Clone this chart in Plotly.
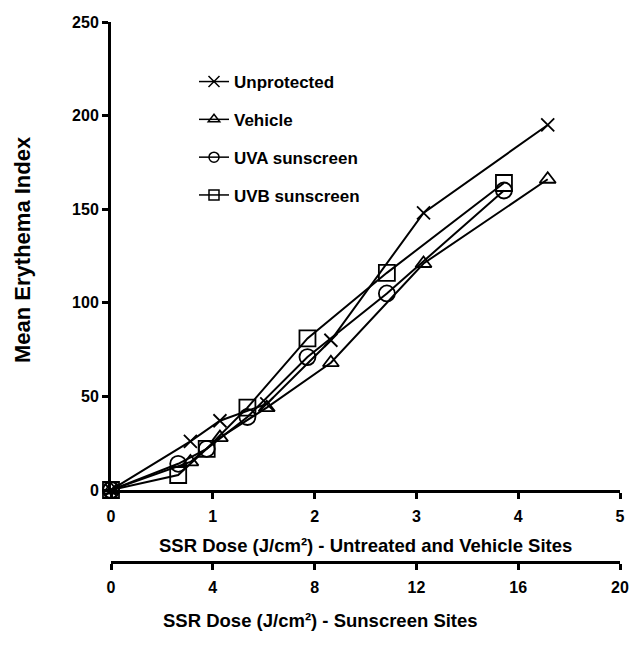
import plotly.graph_objects as go

# Doses for untreated (unprotected) and vehicle sites, J/cm2
dose_untreated = [0, 0.78, 1.07, 1.53, 2.16, 3.07, 4.29]
unprotected = [0, 26, 37, 46, 80, 148, 195]
vehicle = [0, 15, 28, 44, 68, 121, 166]

# Doses for sunscreen sites, J/cm2
dose_sunscreen = [0, 2.64, 3.76, 5.36, 7.72, 10.84, 15.44]
uva = [0, 14, 22, 39, 71, 105, 160]
uvb = [0, 8, 22, 44, 81, 116, 164]

x1_ticks = [0, 1, 2, 3, 4, 5]
x2_ticks = [0, 4, 8, 12, 16, 20]
y_ticks = [0, 50, 100, 150, 200, 250]

FONT = "Liberation Sans, Arial, sans-serif"
BLACK = "#000000"

# the page has an 8px body margin on every side; size the figure so the
# page does not overflow the 641x645 window, and work in page coordinates
OFF = 8
W, H = 641 - 2 * OFF, 645 - 2 * OFF - 1
ml = 111 - OFF
mt = 22 - OFF
mr = W - (620 - OFF)
mb = 4
plot_w = W - ml - mr
plot_h = H - mt - mb
paper_bottom_page = OFF + H - mb


def py(page_y):
    return (paper_bottom_page - page_y) / plot_h


def px(page_x):
    return (page_x - OFF - ml) / plot_w


dom0 = py(490)
pos2 = py(562)

fig = go.Figure()

series = [
    ("Unprotected", dose_untreated, unprotected, "x-thin-open", 13, 11, "x"),
    ("Vehicle", dose_untreated, vehicle, "triangle-up-open", 14, 10, "x"),
    ("UVA sunscreen", dose_sunscreen, uva, "circle-open", 16, 10, "x2"),
    ("UVB sunscreen", dose_sunscreen, uvb, "square-open", 16, 10, "x2"),
]

for i, (name, x, y, symbol, size, lsize, xaxis) in enumerate(series):
    fig.add_trace(go.Scatter(
        x=x, y=y, name=name, mode="lines+markers", xaxis=xaxis, yaxis="y",
        showlegend=False,
        line=dict(color=BLACK, width=2),
        marker=dict(symbol=symbol, size=size, color=BLACK,
                    line=dict(color=BLACK, width=1.8)),
        cliponaxis=False,
    ))
    # legend entry with smaller symbol, as in the original
    fig.add_trace(go.Scatter(
        x=[None], y=[None], name=name, mode="lines+markers",
        xaxis=xaxis, yaxis="y", legendgroup=f"g{i}", showlegend=True,
        line=dict(color=BLACK, width=1.5),
        marker=dict(symbol=symbol, size=lsize, color=BLACK,
                    line=dict(color=BLACK, width=1.5)),
    ))

tickfont = dict(family=FONT, size=16, color=BLACK, weight="bold")
axis_common = dict(
    showgrid=False, zeroline=False, showline=True, linecolor=BLACK, linewidth=3,
    ticks="outside", ticklen=6, tickwidth=3, tickcolor=BLACK, tickfont=tickfont,
    automargin=False,
)

fig.update_layout(
    width=W, height=H,
    margin=dict(l=ml, r=mr, t=mt, b=mb, autoexpand=False),
    paper_bgcolor="white", plot_bgcolor="white",
    font=dict(family=FONT, color=BLACK),
    showlegend=True,
    legend=dict(
        x=px(194), y=py(64), xanchor="left", yanchor="top",
        font=dict(family=FONT, size=17, color=BLACK, weight="bold"),
        bgcolor="rgba(0,0,0,0)", tracegroupgap=12.7, itemwidth=30,
    ),
    xaxis=dict(
        range=[0, 5], tickvals=x1_ticks, ticktext=[str(v) for v in x1_ticks],
        anchor="y", domain=[0, 1], ticklabelstandoff=4, **axis_common,
    ),
    xaxis2=dict(
        range=[0, 20], tickvals=x2_ticks, ticktext=[str(v) for v in x2_ticks],
        overlaying="x", anchor="free", position=pos2, side="bottom",
        ticklabelstandoff=4, **axis_common,
    ),
    yaxis=dict(
        range=[0, 250], tickvals=y_ticks, ticktext=[str(v) for v in y_ticks],
        domain=[dom0, 1], **axis_common,
    ),
)

fig.add_annotation(
    text="Mean Erythema Index", textangle=-90,
    xref="paper", yref="paper", x=px(22), y=py(250),
    xanchor="center", yanchor="middle", showarrow=False,
    font=dict(family=FONT, size=22, color=BLACK, weight="bold"),
)
fig.add_annotation(
    text="SSR Dose (J/cm²) - Untreated and Vehicle Sites",
    xref="paper", yref="paper", x=px(365), y=py(545),
    xanchor="center", yanchor="middle", showarrow=False,
    font=dict(family=FONT, size=18.5, color=BLACK, weight="bold"),
)
fig.add_annotation(
    text="SSR Dose (J/cm²) - Sunscreen Sites",
    xref="paper", yref="paper", x=px(320), y=py(620),
    xanchor="center", yanchor="middle", showarrow=False,
    font=dict(family=FONT, size=18.5, color=BLACK, weight="bold"),
)

fig.write_html("out.html")
